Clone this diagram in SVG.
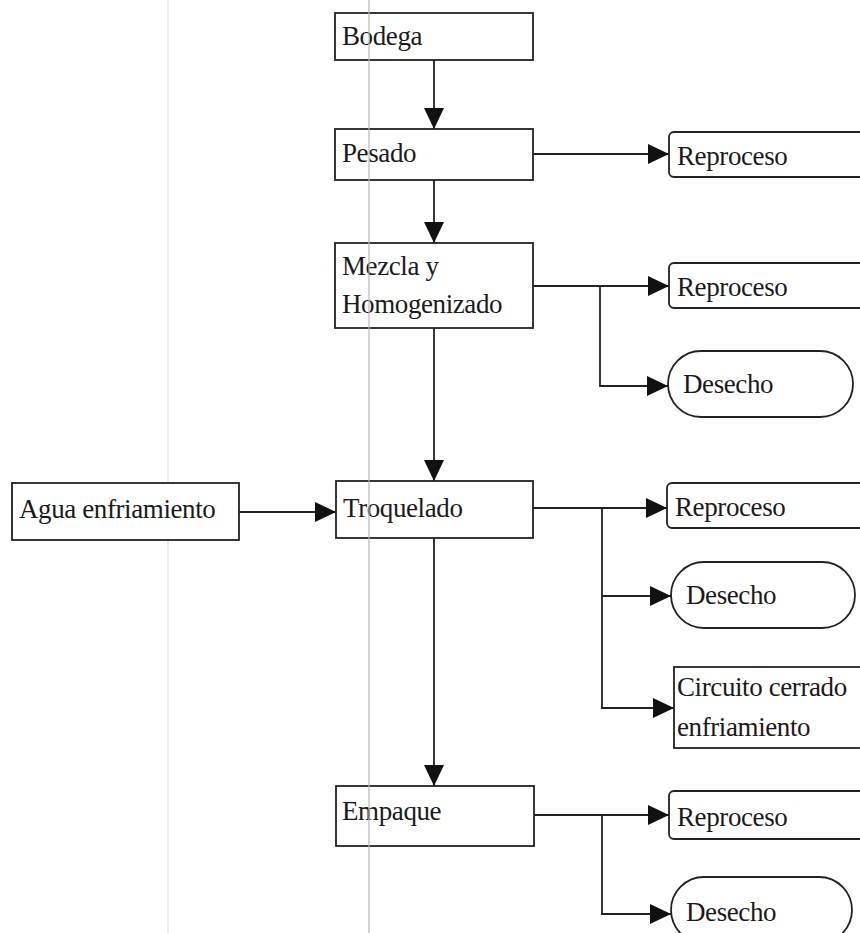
<svg xmlns="http://www.w3.org/2000/svg" width="860" height="933" viewBox="0 0 860 933">
<style>
.box{fill:#fff;stroke:#222;stroke-width:1.8}
.lbl{font-family:"Liberation Serif","Times New Roman",serif;font-size:27px;fill:#1a1a1a;letter-spacing:-0.4px}
.ln{fill:none;stroke:#222;stroke-width:1.8}
.fold{stroke-width:1.5;fill:none}
</style>
<defs>
<marker id="ah" markerUnits="userSpaceOnUse" markerWidth="22" markerHeight="20" refX="21" refY="10" orient="auto">
<path d="M0,0 L21,10 L0,20 Z" fill="#111"/>
</marker>
</defs>
<rect width="860" height="933" fill="#fff"/>
<line class="fold" x1="168" y1="0" x2="168" y2="933" stroke="#e4e4e4"/>

<g id="connectors">
<path class="ln" d="M434,60 V129" marker-end="url(#ah)"/>
<path class="ln" d="M434,180 V243" marker-end="url(#ah)"/>
<path class="ln" d="M434,328 V481" marker-end="url(#ah)"/>
<path class="ln" d="M434,538 V786" marker-end="url(#ah)"/>
<path class="ln" d="M239,512 H336" marker-end="url(#ah)"/>
<path class="ln" d="M533,154 H669" marker-end="url(#ah)"/>
<path class="ln" d="M533,286 H669" marker-end="url(#ah)"/>
<path class="ln" d="M600,286 V386 H668" marker-end="url(#ah)"/>
<path class="ln" d="M533,508 H667" marker-end="url(#ah)"/>
<path class="ln" d="M602,508 V596 H671" marker-end="url(#ah)"/>
<path class="ln" d="M602,596 V708 H674" marker-end="url(#ah)"/>
<path class="ln" d="M534,815 H669" marker-end="url(#ah)"/>
<path class="ln" d="M602,815 V914 H671" marker-end="url(#ah)"/>
</g>

<g id="bodega"><rect class="box" x="335" y="13" width="198" height="47"/><text class="lbl" x="342" y="45">Bodega</text></g>
<g id="pesado"><rect class="box" x="335" y="129" width="198" height="51"/><text class="lbl" x="342" y="162">Pesado</text></g>
<g id="mezcla"><rect class="box" x="335" y="243" width="198" height="85"/><text class="lbl" x="342" y="275">Mezcla y</text><text class="lbl" x="342" y="313">Homogenizado</text></g>
<g id="troquelado"><rect class="box" x="336" y="481" width="197" height="57"/><text class="lbl" x="343" y="517">Troquelado</text></g>
<g id="empaque"><rect class="box" x="336" y="786" width="198" height="60"/><text class="lbl" x="342" y="820">Empaque</text></g>
<g id="agua"><rect class="box" x="12" y="483" width="227" height="57"/><text class="lbl" x="19" y="518">Agua enfriamiento</text></g>

<g id="reproceso1"><rect class="box" x="669" y="132" width="220" height="45" rx="5"/><text class="lbl" x="677" y="165">Reproceso</text></g>
<g id="reproceso2"><rect class="box" x="669" y="263" width="220" height="45" rx="5"/><text class="lbl" x="677" y="296">Reproceso</text></g>
<g id="desecho2"><rect class="box" x="668" y="351" width="185" height="66" rx="33"/><text class="lbl" x="683" y="393">Desecho</text></g>
<g id="reproceso3"><rect class="box" x="667" y="483" width="220" height="45" rx="5"/><text class="lbl" x="675" y="516">Reproceso</text></g>
<g id="desecho3"><rect class="box" x="671" y="562" width="184" height="66" rx="33"/><text class="lbl" x="686" y="604">Desecho</text></g>
<g id="circuito"><rect class="box" x="674" y="667" width="220" height="81"/><text class="lbl" x="677" y="696">Circuito cerrado</text><text class="lbl" x="677" y="736">enfriamiento</text></g>
<g id="reproceso4"><rect class="box" x="669" y="791" width="220" height="48" rx="5"/><text class="lbl" x="677" y="826">Reproceso</text></g>
<g id="desecho4"><rect class="box" x="671" y="877" width="181" height="66" rx="33"/><text class="lbl" x="686" y="921">Desecho</text></g>

<line class="fold" x1="369" y1="0" x2="369" y2="933" stroke="#b8b8b8" opacity="0.8"/>
</svg>
